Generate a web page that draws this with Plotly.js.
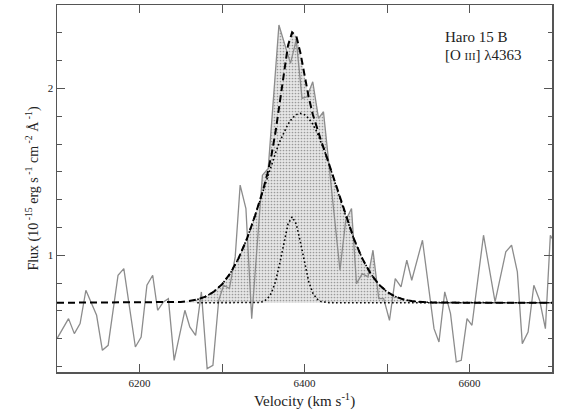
<!DOCTYPE html>
<html>
<head>
<meta charset="utf-8">
<script src="https://cdn.plot.ly/plotly-3.0.1.min.js"></script>
<style>html,body{margin:0;padding:0;background:#fff;}#chart{width:562px;height:411px;}</style>
</head>
<body>
<div id="chart"></div>
<script>
// Observed spectrum (velocity in km/s, flux in 1e-15 erg s-1 cm-2 A-1)
var specVel = [6100, 6114, 6121, 6128, 6135, 6141, 6148, 6155, 6162, 6174, 6181, 6195, 6202, 6209, 6216, 6222, 6229, 6235, 6242, 6255, 6261, 6268, 6275, 6282, 6289, 6296, 6302, 6309, 6316, 6322, 6329, 6336, 6349, 6356, 6369, 6383, 6390, 6397, 6403, 6410, 6417, 6423, 6443, 6450, 6457, 6463, 6470, 6477, 6483, 6490, 6496, 6503, 6510, 6517, 6524, 6530, 6543, 6557, 6563, 6570, 6577, 6584, 6590, 6597, 6603, 6617, 6631, 6644, 6651, 6658, 6664, 6671, 6678, 6685, 6692, 6698, 6700];
var specFlux = [0.50, 0.62, 0.53, 0.59, 0.79, 0.72, 0.64, 0.43, 0.46, 0.88, 0.92, 0.45, 0.51, 0.82, 0.88, 0.67, 0.72, 0.74, 0.37, 0.67, 0.57, 0.52, 0.78, 0.32, 0.34, 0.73, 0.82, 0.80, 0.99, 1.42, 1.28, 0.62, 1.48, 1.52, 2.38, 2.15, 2.29, 1.94, 1.95, 2.04, 1.82, 1.86, 0.91, 1.21, 1.28, 0.83, 0.89, 0.87, 1.03, 0.74, 0.74, 0.61, 0.86, 0.81, 0.97, 0.85, 1.09, 0.56, 0.48, 0.78, 0.65, 0.36, 0.37, 0.62, 0.58, 1.12, 0.72, 1.02, 1.06, 0.90, 0.47, 0.54, 0.82, 0.73, 0.56, 1.12, 1.10];

// Total fitted profile (dashed)
var fitVel = [6100, 6230, 6240, 6250, 6260, 6270, 6280, 6290, 6300, 6310, 6320, 6330, 6340, 6345, 6350, 6355, 6360, 6365, 6370, 6375, 6380, 6385, 6390, 6395, 6400, 6405, 6410, 6415, 6420, 6425, 6430, 6440, 6450, 6460, 6470, 6480, 6490, 6500, 6510, 6520, 6530, 6540, 6550, 6560, 6700];
var fitTotal = [0.715, 0.716, 0.717, 0.720, 0.725, 0.735, 0.752, 0.781, 0.825, 0.891, 0.981, 1.096, 1.236, 1.312, 1.395, 1.488, 1.601, 1.743, 1.917, 2.103, 2.258, 2.336, 2.315, 2.214, 2.079, 1.950, 1.845, 1.761, 1.688, 1.617, 1.543, 1.388, 1.235, 1.096, 0.981, 0.891, 0.825, 0.781, 0.752, 0.735, 0.725, 0.720, 0.717, 0.716, 0.715];

// Gaussian components (dotted)
var compVel = [6270, 6280, 6290, 6300, 6310, 6320, 6330, 6340, 6345, 6350, 6355, 6360, 6365, 6370, 6375, 6380, 6385, 6390, 6395, 6400, 6405, 6410, 6415, 6420, 6425, 6430, 6440, 6450, 6460, 6470, 6480, 6490, 6500, 6510, 6520, 6530, 6540, 6550, 6560, 6700];
var compBroad = [0.735, 0.752, 0.781, 0.825, 0.891, 0.981, 1.096, 1.235, 1.310, 1.388, 1.466, 1.542, 1.615, 1.681, 1.739, 1.786, 1.821, 1.843, 1.850, 1.843, 1.821, 1.786, 1.739, 1.681, 1.615, 1.542, 1.388, 1.235, 1.096, 0.981, 0.891, 0.825, 0.781, 0.752, 0.735, 0.725, 0.720, 0.717, 0.716, 0.715];
var compNarrow = [0.715, 0.715, 0.715, 0.715, 0.715, 0.715, 0.715, 0.716, 0.717, 0.722, 0.738, 0.774, 0.844, 0.951, 1.079, 1.187, 1.230, 1.187, 1.079, 0.951, 0.844, 0.774, 0.738, 0.722, 0.717, 0.716, 0.715, 0.715, 0.715, 0.715, 0.715, 0.715, 0.715, 0.715, 0.715, 0.715, 0.715, 0.715, 0.715, 0.715];
var continuum = 0.715;
var shadeWindow = [6349, 6496];

var xTickVals = [6100, 6200, 6300, 6400, 6500, 6600, 6700];
var xTickText = ['', '6200', '', '6400', '', '6600', ''];
var yTickVals = [1, 2];
var yTickText = ['1', '2'];

var SERIF = 'Liberation Serif, Times New Roman, serif';

// shaded polygons built from the arrays
var mX = [], mY = [];
for (var i = 0; i < fitVel.length; i++) { if (fitVel[i] >= 6230 && fitVel[i] <= 6560) { mX.push(fitVel[i]); mY.push(fitTotal[i]); } }
var modelPolyX = mX.concat([mX[mX.length-1], mX[0]]);
var modelPolyY = mY.concat([continuum, continuum]);
var sX = [], sY = [];
for (var j = 0; j < specVel.length; j++) { if (specVel[j] >= shadeWindow[0] && specVel[j] <= shadeWindow[1]) { sX.push(specVel[j]); sY.push(specFlux[j]); } }
var specPolyX = sX.concat([sX[sX.length-1], sX[0]]);
var specPolyY = sY.concat([continuum, continuum]);

var pattern = {shape: '.', size: 3, solidity: 0.25, fgcolor: '#9a9a9a', bgcolor: '#e6e6e6'};

var traces = [
  {x: modelPolyX, y: modelPolyY, mode: 'lines', fill: 'toself', fillcolor: '#e0e0e0', fillpattern: pattern, line: {width: 0}, hoverinfo: 'skip', showlegend: false},
  {x: specPolyX, y: specPolyY, mode: 'lines', fill: 'toself', fillcolor: '#e0e0e0', fillpattern: pattern, line: {width: 0}, hoverinfo: 'skip', showlegend: false},
  {x: specVel, y: specFlux, mode: 'lines', line: {color: '#8c8c8c', width: 1.3}, showlegend: false},
  {x: compVel, y: compBroad, mode: 'lines', line: {color: '#000', width: 1.6, dash: '1.6px,2.4px'}, showlegend: false},
  {x: compVel, y: compNarrow, mode: 'lines', line: {color: '#000', width: 1.6, dash: '1.6px,2.4px'}, showlegend: false},
  {x: fitVel, y: fitTotal, mode: 'lines', line: {color: '#000', width: 2, dash: '7px,4px'}, showlegend: false}
];

var axisCommon = {
  showgrid: false, zeroline: false, showline: true, linecolor: '#555', linewidth: 1.5,
  mirror: 'ticks', ticks: 'inside', ticklen: 8, tickwidth: 1, tickcolor: '#555',
  tickfont: {family: SERIF, size: 11, color: '#222'}
};

var layout = {
  width: 562, height: 411,
  margin: {l: 57, r: 10, t: 5, b: 39},
  paper_bgcolor: '#fff', plot_bgcolor: '#fff',
  font: {family: SERIF, color: '#222'},
  xaxis: Object.assign({}, axisCommon, {
    range: [6100, 6700], tickmode: 'array', tickvals: xTickVals, ticktext: xTickText,
    title: {text: 'Velocity (km s<sup>-1</sup>)', font: {family: SERIF, size: 15, color: '#222'}, standoff: 8}
  }),
  yaxis: Object.assign({}, axisCommon, {
    range: [0.3, 2.5], tickmode: 'array', tickvals: yTickVals, ticktext: yTickText,
    minor: {tickmode: 'linear', tick0: 0, dtick: 1/6, ticks: 'inside', ticklen: 4.5, tickcolor: '#555', tickwidth: 1, showgrid: false},
    title: {text: 'Flux (10<sup> -15</sup> erg s<sup> -1</sup> cm<sup> -2</sup> Å<sup> -1</sup>)', font: {family: SERIF, size: 14, color: '#222'}, standoff: 6}
  }),
  annotations: [
    {xref: 'paper', yref: 'paper', x: 0.78, y: 0.913, xanchor: 'left', yanchor: 'middle', showarrow: false, text: 'Haro 15 B', font: {family: SERIF, size: 15, color: '#222'}},
    {xref: 'paper', yref: 'paper', x: 0.78, y: 0.864, xanchor: 'left', yanchor: 'middle', showarrow: false, text: '[O <span style="font-size:11px">III</span>] λ4363', font: {family: SERIF, size: 15, color: '#222'}}
  ],
  showlegend: false
};

Plotly.newPlot('chart', traces, layout, {staticPlot: true, displayModeBar: false});
</script>
</body>
</html>
